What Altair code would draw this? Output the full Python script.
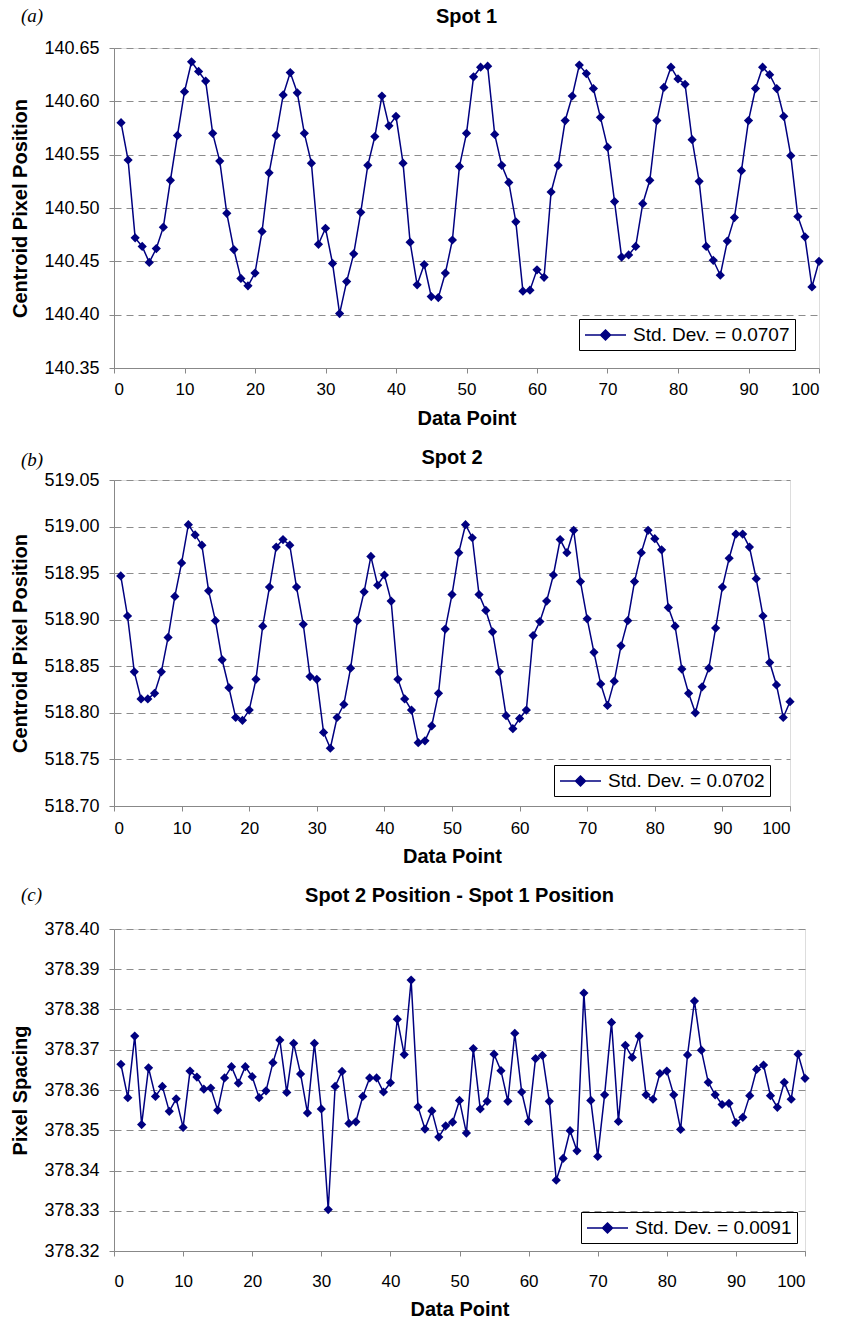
import altair as alt
import pandas as pd

data_points = list(range(1, 101))

spot1 = [140.580, 140.545, 140.472, 140.464, 140.449, 140.462, 140.482, 140.526, 140.568, 140.609,
         140.637, 140.628, 140.619, 140.570, 140.544, 140.495, 140.461, 140.434, 140.427, 140.439,
         140.478, 140.533, 140.568, 140.606, 140.627, 140.608, 140.570, 140.542, 140.466, 140.481,
         140.448, 140.401, 140.431, 140.457, 140.496, 140.540, 140.567, 140.605, 140.577, 140.586,
         140.542, 140.468, 140.428, 140.447, 140.417, 140.416, 140.439, 140.470, 140.539, 140.570,
         140.623, 140.632, 140.633, 140.569, 140.540, 140.524, 140.487, 140.422, 140.423, 140.442,
         140.435, 140.515, 140.540, 140.582, 140.605, 140.634, 140.626, 140.612, 140.585, 140.557,
         140.506, 140.454, 140.456, 140.464, 140.504, 140.526, 140.582, 140.613, 140.632, 140.621,
         140.616, 140.564, 140.525, 140.464, 140.451, 140.437, 140.469, 140.491, 140.535, 140.582,
         140.612, 140.632, 140.625, 140.612, 140.586, 140.549, 140.492, 140.473, 140.426, 140.450]

spot2 = [518.947, 518.904, 518.844, 518.815, 518.815, 518.821, 518.844, 518.881, 518.925, 518.961,
         519.002, 518.991, 518.980, 518.931, 518.899, 518.857, 518.827, 518.795, 518.792, 518.803,
         518.836, 518.893, 518.935, 518.978, 518.986, 518.980, 518.935, 518.895, 518.839, 518.836,
         518.779, 518.762, 518.795, 518.809, 518.848, 518.899, 518.930, 518.968, 518.937, 518.948,
         518.920, 518.836, 518.815, 518.803, 518.768, 518.770, 518.786, 518.821, 518.890, 518.927,
         518.972, 519.002, 518.988, 518.927, 518.910, 518.887, 518.844, 518.797, 518.783, 518.794,
         518.803, 518.883, 518.898, 518.920, 518.948, 518.986, 518.972, 518.996, 518.941, 518.901,
         518.865, 518.831, 518.808, 518.834, 518.872, 518.899, 518.941, 518.972, 518.996, 518.987,
         518.975, 518.913, 518.893, 518.847, 518.821, 518.800, 518.828, 518.848, 518.891, 518.935,
         518.966, 518.992, 518.992, 518.978, 518.944, 518.904, 518.854, 518.830, 518.795, 518.812]

spacing = [378.3664, 378.3581, 378.3734, 378.3514, 378.3655, 378.3584, 378.3609, 378.3547, 378.3578, 378.3507,
           378.3647, 378.3632, 378.3602, 378.3605, 378.3550, 378.3630, 378.3658, 378.3617, 378.3658, 378.3633,
           378.3581, 378.3598, 378.3668, 378.3724, 378.3594, 378.3716, 378.3640, 378.3543, 378.3716, 378.3553,
           378.3303, 378.3609, 378.3646, 378.3517, 378.3521, 378.3584, 378.3630, 378.3630, 378.3595, 378.3618,
           378.3776, 378.3688, 378.3873, 378.3558, 378.3503, 378.3548, 378.3483, 378.3511, 378.3520, 378.3574,
           378.3493, 378.3703, 378.3553, 378.3572, 378.3689, 378.3648, 378.3572, 378.3741, 378.3595, 378.3522,
           378.3678, 378.3686, 378.3572, 378.3376, 378.3430, 378.3499, 378.3449, 378.3841, 378.3574, 378.3435,
           378.3588, 378.3768, 378.3522, 378.3711, 378.3681, 378.3734, 378.3588, 378.3577, 378.3641, 378.3647,
           378.3588, 378.3502, 378.3687, 378.3821, 378.3699, 378.3619, 378.3588, 378.3564, 378.3567, 378.3519,
           378.3532, 378.3586, 378.3651, 378.3662, 378.3586, 378.3557, 378.3619, 378.3577, 378.3689, 378.3629]

x_ticks = list(range(0, 101, 10))
spot1_ticks = [140.35, 140.40, 140.45, 140.50, 140.55, 140.60, 140.65]
spot2_ticks = [518.70, 518.75, 518.80, 518.85, 518.90, 518.95, 519.00, 519.05]
spacing_ticks = [378.32, 378.33, 378.34, 378.35, 378.36, 378.37, 378.38, 378.39, 378.40]

NAVY = "#000080"
SANS = "Liberation Sans"
# line with a diamond in its middle, drawn at scale 10 px per unit (symbolSize 400)
LEGEND_SYMBOL = "M-1,0L3.1,0M1.05,-0.5L1.55,0L1.05,0.5L0.55,0Z"


def panel(values, ticks, title, letter, ytitle, legend_label, width, height,
          legend_x, legend_y, title_offset, letter_y, x_label_pad, x_title_pad):
    df = pd.DataFrame({"Data Point": data_points, "value": values,
                       "series": [legend_label] * len(values)})
    line = alt.Chart(df).mark_line(
        strokeWidth=1.5,
        point=alt.OverlayMarkDef(shape="diamond", filled=True, size=85, color=NAVY, opacity=1),
    ).encode(
        x=alt.X("Data Point:Q",
                scale=alt.Scale(domain=[0, 100], nice=False),
                axis=alt.Axis(values=x_ticks, title="Data Point", grid=False,
                              labelPadding=x_label_pad, titlePadding=x_title_pad,
                              labelFontSize=17, titleFontSize=20)),
        y=alt.Y("value:Q",
                scale=alt.Scale(domain=[ticks[0], ticks[-1]], nice=False, zero=False),
                axis=alt.Axis(values=ticks, format=".2f", title=ytitle, grid=True,
                              gridDash=[7, 5], gridColor="#8c8c8c", gridWidth=1,
                              labelPadding=10, titlePadding=13,
                              labelFontSize=18, titleFontSize=20)),
        color=alt.Color("series:N",
                        scale=alt.Scale(domain=[legend_label], range=[NAVY]),
                        legend=alt.Legend(title=None, orient="none",
                                          legendX=legend_x, legendY=legend_y,
                                          symbolType=LEGEND_SYMBOL, symbolSize=400,
                                          symbolStrokeWidth=1.5, symbolFillColor=NAVY,
                                          symbolStrokeColor=NAVY,
                                          strokeColor="black", fillColor="white",
                                          padding=5, labelOffset=27,
                                          labelFont=SANS, labelFontSize=19,
                                          labelColor="black")),
    )
    lab = alt.Chart(pd.DataFrame({"t": [letter]})).mark_text(
        font="Liberation Serif", fontStyle="italic", fontSize=19, align="left",
        baseline="middle", color="black",
    ).encode(x=alt.value(-93), y=alt.value(letter_y), text="t:N")
    return alt.layer(line, lab).properties(
        width=width, height=height,
        title=alt.TitleParams(title, fontSize=20, font=SANS, fontWeight="bold",
                              offset=title_offset, color="black"),
    )


pa = panel(spot1, spot1_ticks, "Spot 1", "(a)", "Centroid Pixel Position",
           "Std. Dev. = 0.0707", 705, 320, 465, 271, -20, -32, 8, 11)
pb = panel(spot2, spot2_ticks, "Spot 2", "(b)", "Centroid Pixel Position",
           "Std. Dev. = 0.0702", 676, 326, 440, 285, -17, -20, 9, 10)
pc = panel(spacing, spacing_ticks, "Spot 2 Position - Spot 1 Position", "(c)", "Pixel Spacing",
           "Std. Dev. = 0.0091", 691, 322, 467, 283, -20, -34, 17, 10)

chart = alt.vconcat(pa, pb, pc, spacing=18).resolve_scale(
    color="independent"
).resolve_legend(color="independent").properties(
    padding={"left": 10, "top": 6, "right": 5, "bottom": 2}
).configure_view(stroke=None).configure_axis(
    labelFont=SANS, titleFont=SANS, titleFontWeight="bold",
    labelColor="black", titleColor="black",
    domainColor="black", tickColor="black", tickSize=5, domainWidth=1, tickWidth=1,
).configure(background="white")

chart.save("out.html", embed_options={"renderer": "svg", "actions": False})
